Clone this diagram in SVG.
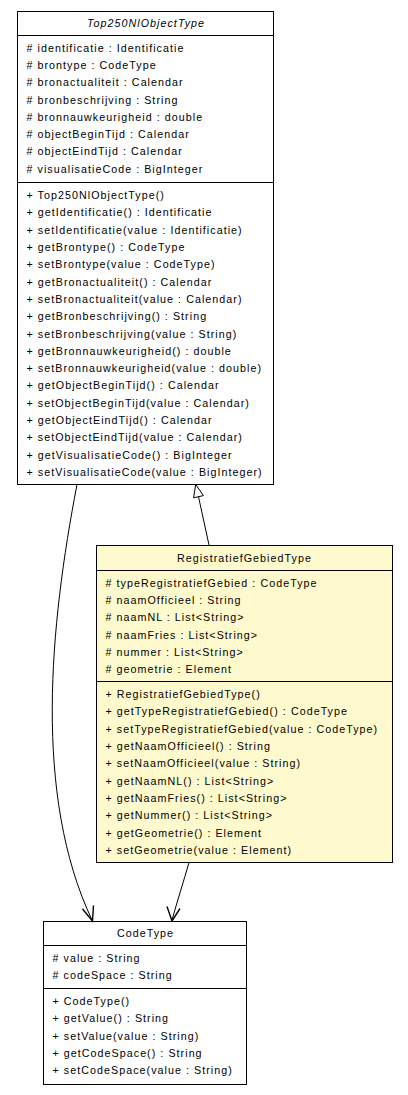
<svg xmlns="http://www.w3.org/2000/svg" width="408" height="1095" viewBox="0 0 408 1095">
  <style>
    .box { fill: #ffffff; stroke: #000000; stroke-width: 1; }
    .box.active { fill: #fffacd; }
    .sep { stroke: #000000; stroke-width: 1; }
    text { font-family: "Liberation Sans", Arial, sans-serif; font-size: 10.7px; letter-spacing: 1.05px; fill: #000000; }
    .title { text-anchor: middle; }
    .abstract { font-style: italic; }
    .edge { fill: none; stroke: #000000; stroke-width: 1; }
    .vee { fill: none; stroke: #000000; stroke-width: 1.4; }
    .tri { fill: #ffffff; stroke: #000000; stroke-width: 1; }
  </style>

  <!-- Abstract base class -->
  <g id="Top250NlObjectType">
    <rect class="box" x="17.5" y="11.5" width="256" height="473"/>
    <line class="sep" x1="17.5" y1="35.5" x2="273.5" y2="35.5"/>
    <line class="sep" x1="17.5" y1="182.5" x2="273.5" y2="182.5"/>
    <text class="title abstract" x="146" y="27">Top250NlObjectType</text>
    <text x="26.5" y="51.6"># identificatie : Identificatie</text>
    <text x="26.5" y="68.9"># brontype : CodeType</text>
    <text x="26.5" y="86.2"># bronactualiteit : Calendar</text>
    <text x="26.5" y="103.5"># bronbeschrijving : String</text>
    <text x="26.5" y="120.8"># bronnauwkeurigheid : double</text>
    <text x="26.5" y="138.1"># objectBeginTijd : Calendar</text>
    <text x="26.5" y="155.4"># objectEindTijd : Calendar</text>
    <text x="26.5" y="172.7"># visualisatieCode : BigInteger</text>
    <text x="26.5" y="199.1">+ Top250NlObjectType()</text>
    <text x="26.5" y="216.4">+ getIdentificatie() : Identificatie</text>
    <text x="26.5" y="233.7">+ setIdentificatie(value : Identificatie)</text>
    <text x="26.5" y="251.0">+ getBrontype() : CodeType</text>
    <text x="26.5" y="268.3">+ setBrontype(value : CodeType)</text>
    <text x="26.5" y="285.6">+ getBronactualiteit() : Calendar</text>
    <text x="26.5" y="302.9">+ setBronactualiteit(value : Calendar)</text>
    <text x="26.5" y="320.2">+ getBronbeschrijving() : String</text>
    <text x="26.5" y="337.5">+ setBronbeschrijving(value : String)</text>
    <text x="26.5" y="354.8">+ getBronnauwkeurigheid() : double</text>
    <text x="26.5" y="372.1">+ setBronnauwkeurigheid(value : double)</text>
    <text x="26.5" y="389.4">+ getObjectBeginTijd() : Calendar</text>
    <text x="26.5" y="406.7">+ setObjectBeginTijd(value : Calendar)</text>
    <text x="26.5" y="424.0">+ getObjectEindTijd() : Calendar</text>
    <text x="26.5" y="441.3">+ setObjectEindTijd(value : Calendar)</text>
    <text x="26.5" y="458.6">+ getVisualisatieCode() : BigInteger</text>
    <text x="26.5" y="475.9">+ setVisualisatieCode(value : BigInteger)</text>
  </g>

  <!-- Concrete subclass -->
  <g id="RegistratiefGebiedType">
    <rect class="box active" x="96.5" y="545.5" width="296" height="317"/>
    <line class="sep" x1="96.5" y1="570.5" x2="392.5" y2="570.5"/>
    <line class="sep" x1="96.5" y1="681.5" x2="392.5" y2="681.5"/>
    <text class="title" x="244.5" y="561.5">RegistratiefGebiedType</text>
    <text x="105.5" y="586.6"># typeRegistratiefGebied : CodeType</text>
    <text x="105.5" y="603.9"># naamOfficieel : String</text>
    <text x="105.5" y="621.2"># naamNL : List&lt;String&gt;</text>
    <text x="105.5" y="638.5"># naamFries : List&lt;String&gt;</text>
    <text x="105.5" y="655.8"># nummer : List&lt;String&gt;</text>
    <text x="105.5" y="673.1"># geometrie : Element</text>
    <text x="105.5" y="698.1">+ RegistratiefGebiedType()</text>
    <text x="105.5" y="715.4">+ getTypeRegistratiefGebied() : CodeType</text>
    <text x="105.5" y="732.7">+ setTypeRegistratiefGebied(value : CodeType)</text>
    <text x="105.5" y="750.0">+ getNaamOfficieel() : String</text>
    <text x="105.5" y="767.3">+ setNaamOfficieel(value : String)</text>
    <text x="105.5" y="784.6">+ getNaamNL() : List&lt;String&gt;</text>
    <text x="105.5" y="801.9">+ getNaamFries() : List&lt;String&gt;</text>
    <text x="105.5" y="819.2">+ getNummer() : List&lt;String&gt;</text>
    <text x="105.5" y="836.5">+ getGeometrie() : Element</text>
    <text x="105.5" y="853.8">+ setGeometrie(value : Element)</text>
  </g>

  <!-- Referenced type -->
  <g id="CodeType">
    <rect class="box" x="43.5" y="921.5" width="203" height="163"/>
    <line class="sep" x1="43.5" y1="945.5" x2="246.5" y2="945.5"/>
    <line class="sep" x1="43.5" y1="988.5" x2="246.5" y2="988.5"/>
    <text class="title" x="145.5" y="937">CodeType</text>
    <text x="52.5" y="961.6"># value : String</text>
    <text x="52.5" y="978.9"># codeSpace : String</text>
    <text x="52.5" y="1005.1">+ CodeType()</text>
    <text x="52.5" y="1022.4">+ getValue() : String</text>
    <text x="52.5" y="1039.7">+ setValue(value : String)</text>
    <text x="52.5" y="1057.0">+ getCodeSpace() : String</text>
    <text x="52.5" y="1074.3">+ setCodeSpace(value : String)</text>
  </g>

  <!-- Connectors -->
  <g id="connectors">
    <!-- generalization: RegistratiefGebiedType extends Top250NlObjectType -->
    <path class="edge" d="M209,545 L198.5,496.7"/>
    <polygon class="tri" points="195.7,484.5 203.4,495.6 193.6,497.8"/>
    <!-- association: Top250NlObjectType to CodeType -->
    <path class="edge" d="M77,484.5 C50,625 33,795 92,920"/>
    <polyline class="vee" points="82.5,909 92.5,921 93.5,905.5"/>
    <!-- association: RegistratiefGebiedType to CodeType -->
    <path class="edge" d="M189,862.5 C184,880 177,902 172,920"/>
    <polyline class="vee" points="167,906.5 172,921 180,908.5"/>
  </g>
</svg>
